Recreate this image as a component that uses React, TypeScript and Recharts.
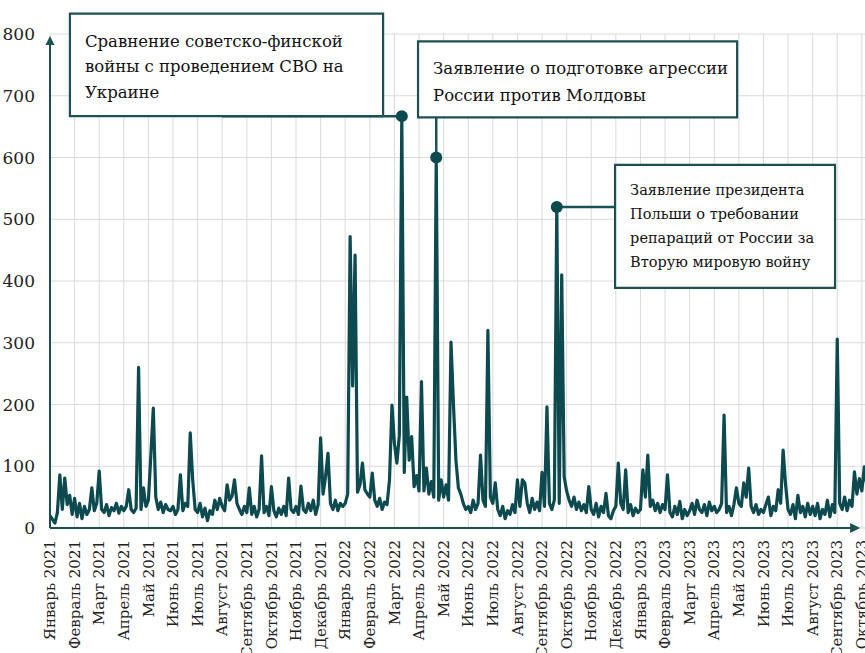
import React from 'react'
import {
  LineChart,
  Line,
  XAxis,
  YAxis,
  CartesianGrid,
  ReferenceArea,
  ReferenceLine,
  ReferenceDot,
} from 'recharts'

// 10 readings per month
const values2021 = [
  20, 14, 8, 25, 86, 30, 81, 38, 53, 22, // Jan
  48, 18, 40, 15, 35, 22, 30, 65, 28, 40, // Feb
  92, 30, 25, 38, 20, 33, 28, 40, 24, 35, // Mar
  28, 35, 62, 30, 25, 32, 260, 30, 65, 35, // Apr
  45, 118, 194, 50, 30, 42, 25, 38, 30, 28, // May
  35, 22, 30, 86, 28, 40, 35, 154, 78, 30, // Jun
  25, 40, 18, 32, 12, 28, 22, 45, 30, 48, // Jul
  35, 28, 70, 45, 52, 78, 40, 30, 22, 35, // Aug
  25, 65, 22, 35, 18, 30, 117, 25, 35, 20, // Sep
  67, 28, 18, 32, 22, 35, 20, 81, 30, 25, // Oct
  35, 22, 68, 30, 25, 40, 28, 45, 22, 38, // Nov
  146, 55, 83, 121, 40, 30, 45, 28, 40, 35, // Dec
]

const values2022 = [
  40, 55, 472, 230, 442, 58, 70, 105, 62, 55, // Jan
  50, 89, 45, 35, 48, 30, 42, 38, 78, 199, // Feb
  137, 105, 150, 667, 90, 212, 110, 148, 67, 85, // Mar
  60, 237, 60, 97, 55, 75, 50, 600, 45, 78, // Apr
  50, 70, 45, 301, 200, 110, 65, 55, 40, 30, // May
  35, 25, 45, 30, 40, 118, 45, 35, 320, 50, // Jun
  40, 73, 30, 20, 35, 15, 28, 22, 38, 25, // Jul
  78, 35, 78, 73, 40, 25, 48, 30, 42, 28, // Aug
  90, 35, 196, 40, 30, 45, 520, 40, 410, 83, // Sep
  60, 45, 35, 50, 30, 42, 28, 38, 25, 67, // Oct
  30, 22, 40, 18, 35, 25, 56, 20, 15, 28, // Nov
  35, 105, 40, 30, 94, 25, 38, 20, 32, 25, // Dec
]

const values2023 = [
  30, 94, 50, 118, 35, 45, 28, 40, 25, 38, // Jan
  30, 86, 25, 18, 35, 22, 43, 15, 30, 20, // Feb
  28, 40, 22, 45, 30, 25, 38, 20, 42, 28, // Mar
  35, 25, 30, 40, 183, 25, 35, 20, 38, 65, // Apr
  40, 35, 73, 50, 97, 35, 25, 38, 22, 30, // May
  25, 38, 50, 20, 35, 28, 62, 40, 126, 70, // Jun
  30, 22, 38, 15, 53, 25, 35, 18, 40, 22, // Jul
  35, 20, 40, 15, 30, 22, 45, 18, 38, 25, // Aug
  306, 40, 30, 50, 28, 45, 35, 91, 55, 80, // Sep
  60, 99, 70, // Oct
]

const perMonth = 10

const monthNames = [
  'Январь', 'Февраль', 'Март', 'Апрель', 'Май', 'Июнь',
  'Июль', 'Август', 'Сентябрь', 'Октябрь', 'Ноябрь', 'Декабрь',
]
const firstYear = 2021
const monthCount = 34

const yTicks = [0, 100, 200, 300, 400, 500, 600, 700, 800]

const tickLabels = Array.from(
  { length: monthCount },
  (_, i) => `${monthNames[i % 12]} ${firstYear + Math.floor(i / 12)}`
)
const monthTicks = tickLabels.map((_, i) => i)

const data = [...values2021, ...values2022, ...values2023].map((v, i) => ({
  t: i / perMonth,
  v,
}))

const valueAt = (t: number) => data[Math.round(t * perMonth)].v

// annotated peaks (month position)
const peakWar = 14.3
const peakMoldova = 15.7
const peakPoland = 20.6

const TEAL = '#0c4a4f'
const BORDER = '#1d5053'
const SERIF = 'DejaVu Serif'

const boxText = (lines: string[], size: number, lead: number, top: number) => (props: any) => {
  const { x, y } = props.viewBox
  return (
    <text x={x + 15} y={y + top} fontFamily={SERIF} fontSize={size} fill="#111">
      {lines.map((l, i) => (
        <tspan key={i} x={x + 15} dy={i === 0 ? 0 : lead}>
          {l}
        </tspan>
      ))}
    </text>
  )
}

const MonthTick = (props: any) => {
  const { x, y, payload } = props
  return (
    <text
      x={x}
      y={y}
      dy="0.35em"
      transform={`rotate(-90, ${x}, ${y})`}
      textAnchor="end"
      fontFamily={SERIF}
      fontSize={15}
      fill="#222"
    >
      {tickLabels[payload.value]}
    </text>
  )
}

const upArrow = (props: any) => {
  const { cx, cy } = props
  return <polygon points={`${cx},${cy + 2} ${cx - 4.5},${cy + 11} ${cx + 4.5},${cy + 11}`} fill={BORDER} />
}

const rightArrow = (props: any) => {
  const { cx, cy } = props
  return <polygon points={`${cx},${cy} ${cx - 10},${cy - 5} ${cx - 10},${cy + 5}`} fill={BORDER} />
}

export default function App() {
  return (
    <div
      style={{
        position: 'absolute',
        left: 0,
        top: 0,
        width: 865,
        height: 653,
        overflow: 'hidden',
        background: '#fff',
      }}
    >
      <LineChart width={868} height={653} data={data} margin={{ top: 34, right: 0, bottom: 0, left: 0 }}>
        <CartesianGrid stroke="#dadada" strokeWidth={1} />
        <XAxis
          type="number"
          dataKey="t"
          domain={[0, 33.25]}
          ticks={monthTicks}
          interval={0}
          height={125}
          axisLine={false}
          tickLine={false}
          tickSize={0}
          tickMargin={12}
          tick={MonthTick}
          allowDataOverflow
        />
        <YAxis
          type="number"
          domain={[0, 800]}
          ticks={yTicks}
          interval={0}
          width={50}
          axisLine={false}
          tickLine={false}
          tickSize={0}
          tickMargin={15}
          tick={{ fontSize: 17, fill: '#222', fontFamily: SERIF }}
        />

        <ReferenceLine
          segment={[{ x: 0, y: 0 }, { x: 0, y: 790 }]}
          stroke={BORDER}
          strokeWidth={2}
          ifOverflow="visible"
        />
        <ReferenceLine
          segment={[{ x: 0, y: 0 }, { x: 32.6, y: 0 }]}
          stroke={BORDER}
          strokeWidth={2}
          ifOverflow="visible"
        />
        <ReferenceDot x={0} y={800} r={5} shape={upArrow} ifOverflow="visible" />
        <ReferenceDot x={32.93} y={0} r={5} shape={rightArrow} ifOverflow="visible" />

        <Line
          type="linear"
          dataKey="v"
          stroke={TEAL}
          strokeWidth={3.2}
          strokeLinejoin="round"
          dot={false}
          activeDot={false}
          isAnimationActive={false}
        />

        <ReferenceLine
          segment={[{ x: 7, y: valueAt(peakWar) }, { x: peakWar, y: valueAt(peakWar) }]}
          stroke={BORDER}
          strokeWidth={2.5}
          ifOverflow="visible"
        />
        <ReferenceLine
          segment={[{ x: peakMoldova, y: 665 }, { x: peakMoldova, y: valueAt(peakMoldova) }]}
          stroke={BORDER}
          strokeWidth={2.5}
          ifOverflow="visible"
        />
        <ReferenceLine
          segment={[{ x: peakPoland, y: valueAt(peakPoland) }, { x: 22.97, y: valueAt(peakPoland) }]}
          stroke={BORDER}
          strokeWidth={2.5}
          ifOverflow="visible"
        />

        <ReferenceArea
          x1={0.81}
          x2={13.54}
          y1={667}
          y2={833}
          fill="#fff"
          fillOpacity={1}
          stroke={BORDER}
          strokeWidth={2.2}
          ifOverflow="visible"
          label={boxText(['Сравнение советско-финской', 'войны с проведением СВО на', 'Украине'], 16.5, 25.5, 33)}
        />
        <ReferenceArea
          x1={14.96}
          x2={27.93}
          y1={665}
          y2={788}
          fill="#fff"
          fillOpacity={1}
          stroke={BORDER}
          strokeWidth={2.2}
          ifOverflow="visible"
          label={boxText(['Заявление о подготовке агрессии', 'России против Молдовы'], 16.5, 27, 33)}
        />
        <ReferenceArea
          x1={22.97}
          x2={31.91}
          y1={389}
          y2={588}
          fill="#fff"
          fillOpacity={1}
          stroke={BORDER}
          strokeWidth={2.2}
          ifOverflow="visible"
          label={boxText(
            ['Заявление президента', 'Польши о требовании', 'репараций от России за', 'Вторую мировую войну'],
            14.5,
            24,
            30
          )}
        />

        <ReferenceDot x={peakWar} y={valueAt(peakWar)} r={6} fill={TEAL} stroke="none" ifOverflow="visible" />
        <ReferenceDot x={peakMoldova} y={valueAt(peakMoldova)} r={6} fill={TEAL} stroke="none" ifOverflow="visible" />
        <ReferenceDot x={peakPoland} y={valueAt(peakPoland)} r={6} fill={TEAL} stroke="none" ifOverflow="visible" />
      </LineChart>
    </div>
  )
}
